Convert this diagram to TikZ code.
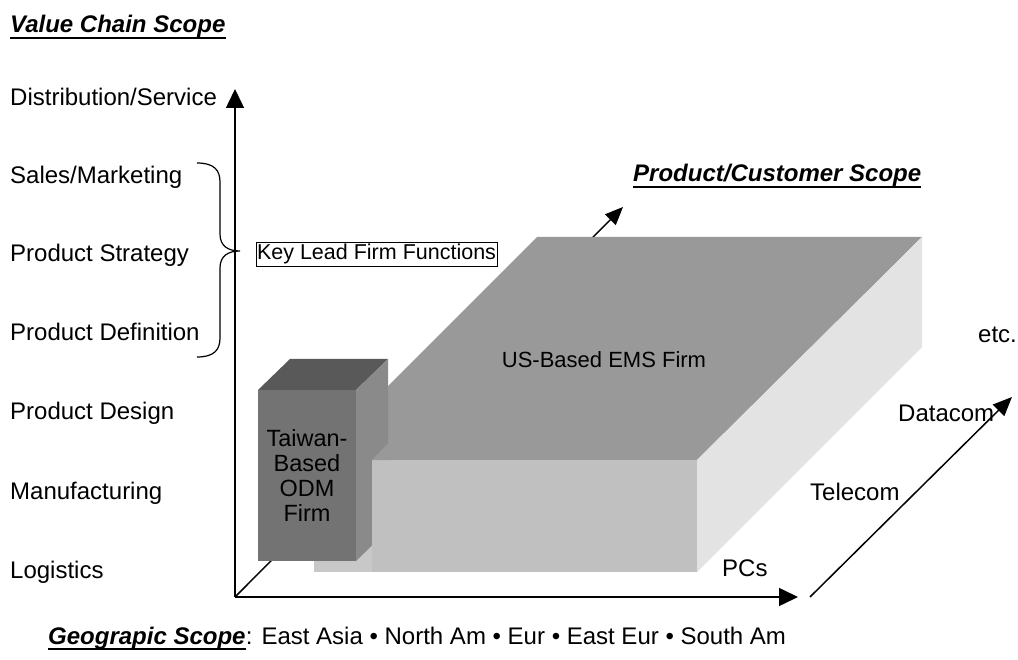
\documentclass[tikz,border=0pt]{standalone}
\usepackage{fontspec}
\setmainfont{Liberation Sans}
\usetikzlibrary{arrows.meta}
\definecolor{topface}{HTML}{999999}
\definecolor{frontface}{HTML}{C0C0C0}
\definecolor{frontlight}{HTML}{C8C8C8}
\definecolor{sideface}{HTML}{E3E3E3}
\definecolor{odmfront}{HTML}{737373}
\definecolor{odmtop}{HTML}{595959}
\definecolor{odmside}{HTML}{8A8A8A}
\tikzset{
  lbl/.style={anchor=base west, inner sep=0pt, font=\fontsize{24}{28}\selectfont},
  heading/.style={anchor=base west, inner sep=0pt, font=\fontsize{24}{28}\selectfont\bfseries\itshape},
  axis/.style={line width=1.5pt, -{Triangle[length=19pt,width=18pt]}},
  diag/.style={line width=1.5pt, -{Triangle[length=19pt,width=16pt]}},
  uline/.style={line width=1.6pt},
}
\begin{document}
\begin{tikzpicture}[x=1pt,y=-1pt]
\useasboundingbox[fill=white] (0,0) rectangle (1018,660);

% headings
\node[heading] (vcs) at (10,33) {Value Chain Scope};
\draw[uline] ([yshift=-5pt]vcs.base west) -- ([yshift=-5pt]vcs.base east);
\node[heading] (pcs) at (633,182) {Product/Customer Scope};
\draw[uline] ([yshift=-5pt]pcs.base west) -- ([yshift=-5pt]pcs.base east);

% value chain levels
\node[lbl] (l1) at (10,105.5) {Distribution/Service};
\node[lbl] (l2) at (10,183.5) {Sales/Marketing};
\node[lbl] (l3) at (10,262) {Product Strategy};
\node[lbl] (l4) at (10,341) {Product Definition};
\node[lbl] (l5) at (10,420) {Product Design};
\node[lbl] (l6) at (10,499) {Manufacturing};
\node[lbl] (l7) at (10,578) {Logistics};

% axes
\coordinate (origin) at (235,597);
\coordinate (ytip) at (235,89);
\coordinate (xtip) at (798,597);
\coordinate (ztip) at (623,207);
\draw[axis] (origin) -- (ytip);
\draw[axis] (origin) -- (xtip);
\draw[line width=1.5pt, -{Triangle[length=18pt,width=15pt]}] (origin) -- (ztip);

% brace grouping the lead firm functions
\coordinate (brtop) at (197,163);
\coordinate (brtip) at (240,251);
\coordinate (brbot) at (197,357);
\draw[line width=1.2pt] (brtop) .. controls (214,163) and (220,170) .. (220,182)
  -- (220,234) .. controls (220,246) and (228,251) .. (brtip)
  .. controls (228,251) and (220,256) .. (220,268)
  -- (220,338) .. controls (220,350) and (214,357) .. (brbot);
\node[draw, line width=0.9pt, inner xsep=1pt, inner ysep=2pt,
      font=\fontsize{21.5}{24}\selectfont] (key) at (376.5,254) {Key Lead Firm Functions};

% large EMS block
\fill[topface] (314,460) -- (697,460) -- (922,237) -- (537,237) -- cycle;
\fill[sideface] (697,460) -- (922,237) -- (922,347) -- (697,572) -- cycle;
\fill[frontlight] (314,460) rectangle (372,572);
\fill[frontface] (372,460) rectangle (697,572);
\node[font=\fontsize{22}{26}\selectfont, anchor=base] (ems) at (604,368) {US-Based EMS Firm};

% ODM block
\fill[odmtop] (258,390) -- (356,390) -- (388,359) -- (290,359) -- cycle;
\fill[odmside] (356,390) -- (388,359) -- (388,530) -- (356,561) -- cycle;
\fill[odmfront] (258,390) rectangle (356,561);
\node[font=\fontsize{23.5}{25}\selectfont, align=center] (odm) at (307,475)
  {Taiwan-\\Based\\ODM\\Firm};
% EMS block faces passing in front of the ODM side
\fill[frontface] (372,460) rectangle (390,572);
\fill[topface] (372,460) -- (388.5,443) -- (388.5,460) -- cycle;

% product / customer axis
\coordinate (pstart) at (810,597);
\coordinate (ptip) at (1012,397);
\draw[diag] (pstart) -- (ptip);
\node[lbl] (pcs1) at (722,576) {PCs};
\node[lbl] (pcs2) at (810,500) {Telecom};
\node[lbl] (pcs3) at (898,421) {Datacom};
\node[lbl] (pcs4) at (978,343) {etc.};

% geographic scope
\node[heading] (geo) at (48,644) {Geograpic Scope};
\draw[uline] ([yshift=-5pt]geo.base west) -- ([yshift=-5pt]geo.base east);
\node[lbl] (geolist) at (geo.base east) {: East Asia • North Am • Eur • East Eur • South Am};
\end{tikzpicture}
\end{document}
